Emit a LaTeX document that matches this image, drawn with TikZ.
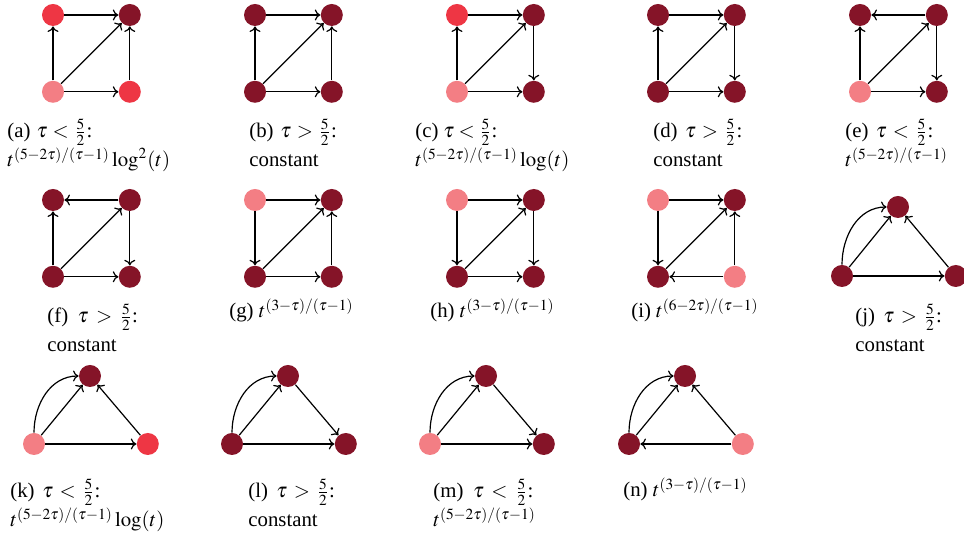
\documentclass[tikz,border=0pt]{standalone}
\usepackage{mathptmx}
\usepackage[no-math]{fontspec}
\setmainfont{Liberation Serif}
\usetikzlibrary{arrows.meta,positioning}
\definecolor{nodedark}{RGB}{133,20,40}
\definecolor{nodered}{RGB}{238,54,68}
\definecolor{nodepink}{RGB}{243,126,132}

\begin{document}
\begin{tikzpicture}[
    x=0.5pt, y=0.5pt,
    node distance=27pt,
    vtx/.style={circle, inner sep=0pt, minimum size=11pt},
    dk/.style={vtx, fill=nodedark},
    rd/.style={vtx, fill=nodered},
    pk/.style={vtx, fill=nodepink},
    arrow/.style={-{To[length=2.8pt,width=5.5pt]}, line width=0.6pt},
    subcap/.style={anchor=base west, align=left, inner sep=0pt,
        font=\fontsize{10.4}{14.5}\selectfont}
]
    \useasboundingbox (0,0) rectangle (964,533);

    % (a)
    \node[rd] (a1) at (53,518) {};
    \node[dk, right=of a1] (a2) {};
    \node[pk, below=of a1] (a3) {};
    \node[rd, right=of a3] (a4) {};
    \draw[arrow] (a3) -- (a1);
    \draw[arrow] (a1) -- (a2);
    \draw[arrow] (a3) -- (a2);
    \draw[arrow] (a3) -- (a4);
    \draw[arrow] (a4) -- (a2);
    \node[subcap] (capa) at (7,366) {\hbox to 42.5pt{(a) $\tau < \frac{5}{2}$:}\\
        $t^{(5-2\tau)/(\tau-1)}\log^2(t)$};

    % (b)
    \node[dk] (b1) at (255,518) {};
    \node[dk, right=of b1] (b2) {};
    \node[dk, below=of b1] (b3) {};
    \node[dk, right=of b3] (b4) {};
    \draw[arrow] (b3) -- (b1);
    \draw[arrow] (b1) -- (b2);
    \draw[arrow] (b3) -- (b2);
    \draw[arrow] (b3) -- (b4);
    \draw[arrow] (b4) -- (b2);
    \node[subcap] (capb) at (249,366) {\hbox to 43.7pt{(b) $\tau > \frac{5}{2}$:}\\
        constant};

    % (c)
    \node[rd] (c1) at (457,518) {};
    \node[dk, right=of c1] (c2) {};
    \node[pk, below=of c1] (c3) {};
    \node[dk, right=of c3] (c4) {};
    \draw[arrow] (c3) -- (c1);
    \draw[arrow] (c1) -- (c2);
    \draw[arrow] (c3) -- (c2);
    \draw[arrow] (c3) -- (c4);
    \draw[arrow] (c2) -- (c4);
    \node[subcap] (capc) at (415,366) {\hbox to 41pt{(c) $\tau < \frac{5}{2}$:}\\
        $t^{(5-2\tau)/(\tau-1)}\log(t)$};

    % (d)
    \node[dk] (d1) at (658,518) {};
    \node[dk, right=of d1] (d2) {};
    \node[dk, below=of d1] (d3) {};
    \node[dk, right=of d3] (d4) {};
    \draw[arrow] (d3) -- (d1);
    \draw[arrow] (d1) -- (d2);
    \draw[arrow] (d3) -- (d2);
    \draw[arrow] (d3) -- (d4);
    \draw[arrow] (d2) -- (d4);
    \node[subcap] (capd) at (653,366) {\hbox to 44.5pt{(d) $\tau > \frac{5}{2}$:}\\
        constant};

    % (e)
    \node[dk] (e1) at (860,518) {};
    \node[dk, right=of e1] (e2) {};
    \node[pk, below=of e1] (e3) {};
    \node[dk, right=of e3] (e4) {};
    \draw[arrow] (e3) -- (e1);
    \draw[arrow] (e2) -- (e1);
    \draw[arrow] (e3) -- (e2);
    \draw[arrow] (e3) -- (e4);
    \draw[arrow] (e2) -- (e4);
    \node[subcap] (cape) at (845,366) {\hbox to 44pt{(e) $\tau < \frac{5}{2}$:}\\
        $t^{(5-2\tau)/(\tau-1)}$};

    % (f)
    \node[dk] (f1) at (53,333) {};
    \node[dk, right=of f1] (f2) {};
    \node[dk, below=of f1] (f3) {};
    \node[dk, right=of f3] (f4) {};
    \draw[arrow] (f3) -- (f1);
    \draw[arrow] (f2) -- (f1);
    \draw[arrow] (f3) -- (f2);
    \draw[arrow] (f3) -- (f4);
    \draw[arrow] (f2) -- (f4);
    \node[subcap] (capf) at (47,181) {\hbox to 45.3pt{(f) $\tau > \frac{5}{2}$:}\\
        constant};

    % (g)
    \node[pk] (g1) at (255,333) {};
    \node[dk, right=of g1] (g2) {};
    \node[dk, below=of g1] (g3) {};
    \node[dk, right=of g3] (g4) {};
    \draw[arrow] (g1) -- (g3);
    \draw[arrow] (g1) -- (g2);
    \draw[arrow] (g3) -- (g2);
    \draw[arrow] (g3) -- (g4);
    \draw[arrow] (g4) -- (g2);
    \node[subcap] (capg) at (229,215) {(g) $t^{(3-\tau)/(\tau-1)}$};

    % (h)
    \node[pk] (h1) at (457,333) {};
    \node[dk, right=of h1] (h2) {};
    \node[dk, below=of h1] (h3) {};
    \node[dk, right=of h3] (h4) {};
    \draw[arrow] (h1) -- (h3);
    \draw[arrow] (h1) -- (h2);
    \draw[arrow] (h3) -- (h2);
    \draw[arrow] (h3) -- (h4);
    \draw[arrow] (h2) -- (h4);
    \node[subcap] (caph) at (430,215) {(h) $t^{(3-\tau)/(\tau-1)}$};

    % (i)
    \node[pk] (i1) at (658,333) {};
    \node[dk, right=of i1] (i2) {};
    \node[dk, below=of i1] (i3) {};
    \node[pk, right=of i3] (i4) {};
    \draw[arrow] (i1) -- (i3);
    \draw[arrow] (i1) -- (i2);
    \draw[arrow] (i3) -- (i2);
    \draw[arrow] (i4) -- (i3);
    \draw[arrow] (i4) -- (i2);
    \node[subcap] (capi) at (631,215) {(i) $t^{(6-2\tau)/(\tau-1)}$};

    % (j)
    \node[dk] (j1) at (842,257) {};
    \node[dk] (j2) at ([shift={(56,69)}]j1) {};
    \node[dk, right=45.5pt of j1] (j3) {};
    \draw[arrow] (j1) to[out=90, in=180] (j2);
    \draw[arrow] (j1) -- (j2);
    \draw[arrow] (j1) -- (j3);
    \draw[arrow] (j3) -- (j2);
    \node[subcap] (capj) at (855,181) {\hbox to 43.3pt{(j) $\tau > \frac{5}{2}$:}\\
        constant};

    % (k)
    \node[pk] (k1) at (34,89) {};
    \node[dk] (k2) at ([shift={(56,68)}]k1) {};
    \node[rd, right=45.5pt of k1] (k3) {};
    \draw[arrow] (k1) to[out=90, in=180] (k2);
    \draw[arrow] (k1) -- (k2);
    \draw[arrow] (k1) -- (k3);
    \draw[arrow] (k3) -- (k2);
    \node[subcap] (capk) at (10,6) {\hbox to 45pt{(k) $\tau < \frac{5}{2}$:}\\
        $t^{(5-2\tau)/(\tau-1)}\log(t)$};

    % (l)
    \node[dk] (l1) at (232,89) {};
    \node[dk] (l2) at ([shift={(56,68)}]l1) {};
    \node[dk, right=45.5pt of l1] (l3) {};
    \draw[arrow] (l1) to[out=90, in=180] (l2);
    \draw[arrow] (l1) -- (l2);
    \draw[arrow] (l1) -- (l3);
    \draw[arrow] (l2) -- (l3);
    \node[subcap] (capl) at (248,6) {\hbox to 43.3pt{(l) $\tau > \frac{5}{2}$:}\\
        constant};

    % (m)
    \node[pk] (m1) at (430,89) {};
    \node[dk] (m2) at ([shift={(56,68)}]m1) {};
    \node[dk, right=45.5pt of m1] (m3) {};
    \draw[arrow] (m1) to[out=90, in=180] (m2);
    \draw[arrow] (m1) -- (m2);
    \draw[arrow] (m1) -- (m3);
    \draw[arrow] (m2) -- (m3);
    \node[subcap] (capm) at (433,6) {\hbox to 50pt{(m) $\tau < \frac{5}{2}$:}\\
        $t^{(5-2\tau)/(\tau-1)}$};

    % (n)
    \node[dk] (n1) at (629,89) {};
    \node[dk] (n2) at ([shift={(56,68)}]n1) {};
    \node[pk, right=45.5pt of n1] (n3) {};
    \draw[arrow] (n1) to[out=90, in=180] (n2);
    \draw[arrow] (n1) -- (n2);
    \draw[arrow] (n3) -- (n1);
    \draw[arrow] (n3) -- (n2);
    \node[subcap] (capn) at (623,36) {(n) $t^{(3-\tau)/(\tau-1)}$};
\end{tikzpicture}
\end{document}
